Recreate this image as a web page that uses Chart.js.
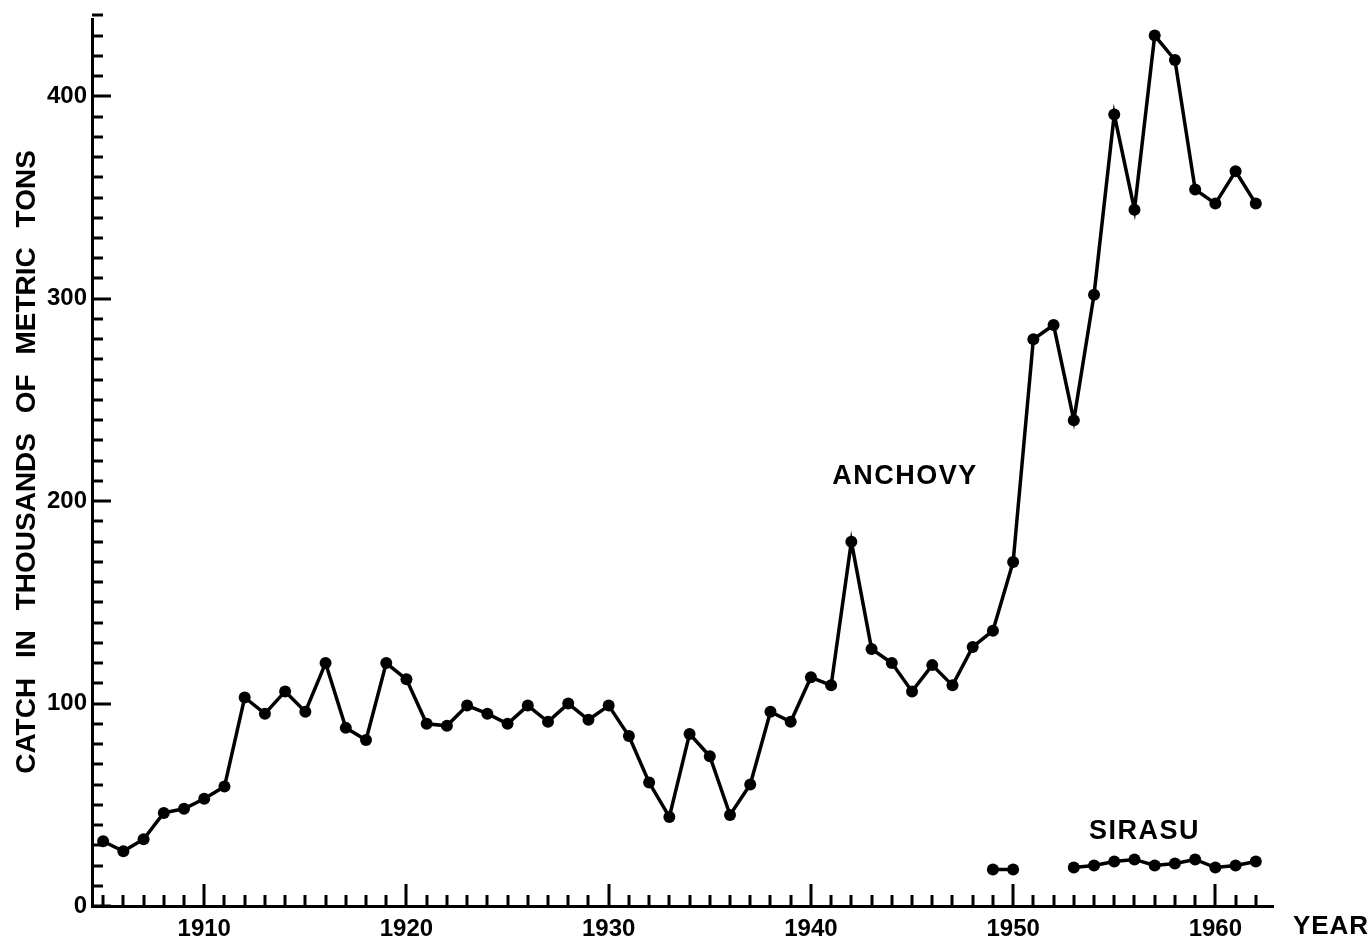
<!DOCTYPE html>
<html>
<head>
<meta charset="utf-8">
<script src="https://cdn.jsdelivr.net/npm/chart.js@4.4.1/dist/chart.umd.min.js"></script>
<style>
  html, body { margin: 0; padding: 0; background: #fff; }
  #wrap { width: 1369px; height: 937px; }
</style>
</head>
<body>
<div id="wrap"><canvas id="catchChart" width="1369" height="937"></canvas></div>
<script>
const years = [
  1905, 1906, 1907, 1908, 1909, 1910, 1911, 1912, 1913, 1914,
  1915, 1916, 1917, 1918, 1919, 1920, 1921, 1922, 1923, 1924,
  1925, 1926, 1927, 1928, 1929, 1930, 1931, 1932, 1933, 1934,
  1935, 1936, 1937, 1938, 1939, 1940, 1941, 1942, 1943, 1944,
  1945, 1946, 1947, 1948, 1949, 1950, 1951, 1952, 1953, 1954,
  1955, 1956, 1957, 1958, 1959, 1960, 1961, 1962
];
const anchovy = [
  32, 27, 33, 46, 48, 53, 59, 103, 95, 106,
  96, 120, 88, 82, 120, 112, 90, 89, 99, 95,
  90, 99, 91, 100, 92, 99, 84, 61, 44, 85,
  74, 45, 60, 96, 91, 113, 109, 180, 127, 120,
  106, 119, 109, 128, 136, 170, 280, 287, 240, 302,
  391, 344, 430, 418, 354, 347, 363, 347
];
const sirasuYears = [1949, 1950, 1951, 1952, 1953, 1954, 1955, 1956, 1957, 1958, 1959, 1960, 1961, 1962];
const sirasu = [18, 18, null, null, 19, 20, 22, 23, 20, 21, 23, 19, 20, 22];

const yTickValues = [0, 100, 200, 300, 400];
const xTickValues = [1910, 1920, 1930, 1940, 1950, 1960];

const FONT = "'Liberation Sans', Arial, sans-serif";

// inward tick marks + the hand lettered labels
const annotatePlugin = {
  id: 'annotate',
  afterDraw(chart) {
    const ctx = chart.ctx;
    const xs = chart.scales.x;
    const ys = chart.scales.y;
    const area = chart.chartArea;
    ctx.save();
    ctx.strokeStyle = '#000';
    ctx.lineWidth = 3;
    ctx.beginPath();
    for (let v = 0; v <= 440; v += 10) {
      const py = Math.round(ys.getPixelForValue(v));
      const len = v % 100 === 0 ? 19 : 11;
      ctx.moveTo(area.left, py);
      ctx.lineTo(area.left + len, py);
    }
    for (let yr = 1905; yr <= 1962; yr++) {
      const px = Math.round(xs.getPixelForValue(yr));
      const len = yr % 10 === 0 ? 22 : 11;
      ctx.moveTo(px, area.bottom);
      ctx.lineTo(px, area.bottom - len);
    }
    ctx.stroke();

    ctx.fillStyle = '#000';
    ctx.textAlign = 'center';
    ctx.textBaseline = 'middle';

    ctx.font = 'bold 27px ' + FONT;
    ctx.letterSpacing = '1.5px';
    ctx.fillText('ANCHOVY', xs.getPixelForValue(1944.65), ys.getPixelForValue(212));
    ctx.fillText('SIRASU', xs.getPixelForValue(1956.5), ys.getPixelForValue(37));

    ctx.font = 'bold 26px ' + FONT;
    ctx.letterSpacing = '1px';
    ctx.fillText('YEAR', area.right + 58, area.bottom + 21);

    ctx.translate(27, 462);
    ctx.rotate(-Math.PI / 2);
    ctx.font = 'bold 28px ' + FONT;
    ctx.letterSpacing = '0px';
    ctx.wordSpacing = '12px';
    ctx.fillText('CATCH IN THOUSANDS OF METRIC TONS', 0, 0);
    ctx.restore();
  }
};

const ctx = document.getElementById('catchChart');

new Chart(ctx, {
  type: 'line',
  data: {
    datasets: [
      {
        label: 'Anchovy',
        data: years.map((yr, i) => ({ x: yr, y: anchovy[i] })),
        borderColor: '#000',
        backgroundColor: '#000',
        borderWidth: 3.5,
        pointRadius: 6,
        pointBorderWidth: 0,
        tension: 0,
        clip: false
      },
      {
        label: 'Sirasu',
        data: sirasuYears.map((yr, i) => ({ x: yr, y: sirasu[i] })),
        borderColor: '#000',
        backgroundColor: '#000',
        borderWidth: 3.5,
        pointRadius: 6,
        pointBorderWidth: 0,
        tension: 0,
        spanGaps: false,
        clip: false
      }
    ]
  },
  options: {
    responsive: false,
    animation: false,
    layout: {
      autoPadding: false,
      padding: { top: 15, right: 96, bottom: 0, left: 0 }
    },
    plugins: {
      legend: { display: false },
      tooltip: { enabled: false }
    },
    scales: {
      x: {
        type: 'linear',
        min: 1904.45,
        max: 1962.85,
        afterFit: (scale) => { scale.height = 31; },
        afterBuildTicks: (scale) => { scale.ticks = xTickValues.map(v => ({ value: v })); },
        grid: { display: false, drawTicks: false },
        border: { display: true, color: '#000', width: 3 },
        ticks: {
          color: '#000',
          padding: 9,
          maxRotation: 0,
          autoSkip: false,
          callback: (value) => String(value),
          font: { family: FONT, size: 24, weight: 'bold' }
        }
      },
      y: {
        type: 'linear',
        min: 0,
        max: 438,
        afterFit: (scale) => { scale.width = 92; },
        afterBuildTicks: (scale) => { scale.ticks = yTickValues.map(v => ({ value: v })); },
        grid: { display: false, drawTicks: false },
        border: { display: true, color: '#000', width: 3 },
        ticks: {
          color: '#000',
          padding: 5,
          autoSkip: false,
          callback: (value) => String(value),
          font: { family: FONT, size: 24, weight: 'bold' }
        }
      }
    }
  },
  plugins: [annotatePlugin]
});
</script>
</body>
</html>
